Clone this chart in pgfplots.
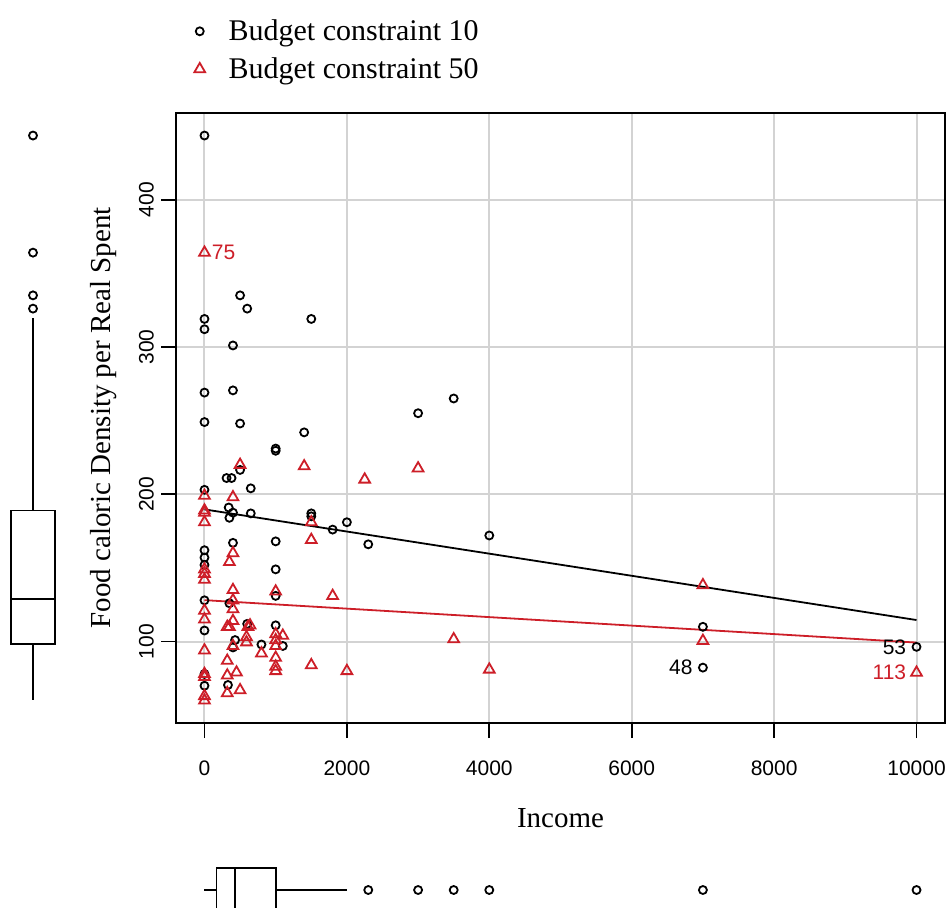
\documentclass[border=0pt]{standalone}
\usepackage{fontspec}
\setmainfont{Liberation Serif}
\newfontfamily\arialfont{Liberation Sans}
\usepackage{pgfplots}
\pgfplotsset{compat=1.18}
\usepgfplotslibrary{statistics}
\definecolor{rred}{RGB}{205,30,40}
\definecolor{gridgray}{RGB}{211,211,211}

\pgfplotstableread{
x y
0 443.5
500 335
600 326
0 319
0 312
1500 319
400 301
0 269
400 270.5
0 249
500 248
1400 242
1000 231
1000 229.5
310 211
380 211
500 216.5
650 204
0 203
340 191
400 187.5
350 184
650 187
1500 187
1500 185
1800 176
2000 181
3000 255
3500 265
2300 166
4000 172
400 167
1000 168
0 162
0 157
0 152
1000 149
0 128
350 126
600 112
1000 111
0 107.5
430 101
400 96
800 98
1100 97
0 70
330 70.5
1000 131
0 78
7000 110
7000 82.3
10000 96.4
}\bcten

\pgfplotstableread{
x y
0 364
500 220
1400 219
2250 210
0 199
400 198
0 189
0 187.5
0 181
1500 181
3000 217.6
3500 101.6
4000 81
2000 80
1500 169
400 160
350 154
0 149
0 146
0 142
400 135
400 128
1000 134
1800 131
0 121
0 115
400 122
400 114
320 110
350 110
640 111
610 110
1000 105
1000 101
1100 104
590 103
590 99.5
400 97
1000 97
0 94
800 92
1000 89
320 87
1500 84
1000 83
1000 80
0 78
0 76
450 79
320 77
0 63
320 65
500 67
0 60
7000 138.3
7000 100.5
10000 78.9
}\bcfifty

\pgfplotstableread{
x y
1.5 443.5
1.5 364
1.5 335
1.5 326
}\youtliers

\begin{document}
\begin{tikzpicture}[x=1pt,y=1pt]
\path[use as bounding box] (0,0) rectangle (474,453.5);
\begin{axis}[
  at={(88pt,92pt)}, anchor=south west,
  scale only axis, width=384.5pt, height=305pt,
  xmin=-400, xmax=10400, ymin=44.7, ymax=458.8,
  xtick={0,2000,4000,6000,8000,10000}, ytick={100,200,300,400},
  scaled x ticks=false, scaled y ticks=false,
  grid=major, grid style={gridgray, line width=1pt},
  axis line style={line width=0.9pt},
  tick style={black, line width=0.9pt},
  tick align=outside, major tick length=7.5pt,
  xtick pos=bottom, ytick pos=left,
  ticklabel style={font=\fontsize{10.5}{12}\arialfont},
  /pgf/number format/assume math mode=true,
  /pgf/number format/1000 sep={},
  yticklabel style={rotate=90, anchor=south},
  xticklabel style={yshift=-8pt},
  xlabel={Income}, ylabel={Food caloric Density per Real Spent},
  label style={font=\fontsize{14.5}{17}\selectfont},
  xlabel style={at={(axis description cs:0.5,0)}, anchor=center, yshift=-47.5pt},
  ylabel style={at={(axis description cs:0,0.5)}, anchor=center, yshift=36pt},
  legend style={at={(axis description cs:0,1)}, anchor=north west, xshift=6pt, yshift=51pt,
    draw=none, fill=none, font=\fontsize{15}{18}\selectfont, row sep=3pt,
    cells={anchor=west}},
  legend image code/.code={\draw[#1,mark repeat=1,mark phase=1] plot coordinates {(0.2cm,0cm)};
     \path (0.2cm,0cm) ++(12pt,0pt);},
]
\addplot[only marks, mark=o, mark size=2pt, black, line width=0.9pt] table[x=x,y=y] {\bcten};
\addlegendentry{Budget constraint 10}
\addplot[only marks, mark=triangle, mark size=3.1pt, rred, line width=0.9pt] table[x=x,y=y] {\bcfifty};
\addlegendentry{Budget constraint 50}
\addplot[black, line width=0.9pt, forget plot] coordinates {(0,189.7) (10000,114.6)};
\addplot[rred, line width=0.9pt, forget plot] coordinates {(0,128.1) (10000,99.3)};
\node[rred, anchor=west, font=\fontsize{10.5}{12}\arialfont, inner sep=0pt, xshift=3.5pt] at (axis cs:0,364) {75};
\node[black, anchor=east, font=\fontsize{10.5}{12}\arialfont, inner sep=0pt, xshift=-5pt] at (axis cs:7000,82.3) {48};
\node[black, anchor=east, font=\fontsize{10.5}{12}\arialfont, inner sep=0pt, xshift=-5pt] at (axis cs:10000,96.4) {53};
\node[rred, anchor=east, font=\fontsize{10.5}{12}\arialfont, inner sep=0pt, xshift=-5pt] at (axis cs:10000,78.9) {113};
\end{axis}

\begin{axis}[
  at={(0pt,92pt)}, anchor=south west,
  scale only axis, width=33pt, height=305pt,
  xmin=0, xmax=3, ymin=44.7, ymax=458.8,
  hide axis, clip=false,
]
\addplot[black, line width=0.9pt, line join=miter] coordinates {(0.5,98.6) (2.5,98.6) (2.5,189) (0.5,189)} -- cycle;
\addplot[black, line width=0.9pt] coordinates {(0.5,129) (2.5,129)};
\addplot[black, line width=0.9pt] coordinates {(1.5,189) (1.5,319.7)};
\addplot[black, line width=0.9pt] coordinates {(1.5,98.6) (1.5,60)};
\addplot[only marks, mark=o, mark size=2pt, black, line width=0.9pt] table[x=x,y=y] {\youtliers};
\end{axis}

\begin{axis}[
  at={(88pt,0pt)}, anchor=south west,
  scale only axis, width=384.5pt, height=28.5pt,
  xmin=-400, xmax=10400, ymin=0, ymax=57,
  hide axis, clip=true,
]
\addplot+[boxplot prepared={draw position=17, lower whisker=0, lower quartile=170,
   median=430, upper quartile=1000, upper whisker=2000, box extend=44, whisker extend=0},
   boxplot/draw direction=x,
   black, solid, line width=0.9pt, mark=o, mark size=2pt, mark options={black, solid}]
   table[row sep=\\, y index=0] {2300\\ 3000\\ 3500\\ 4000\\ 7000\\ 10000\\};
\end{axis}
\end{tikzpicture}
\end{document}
